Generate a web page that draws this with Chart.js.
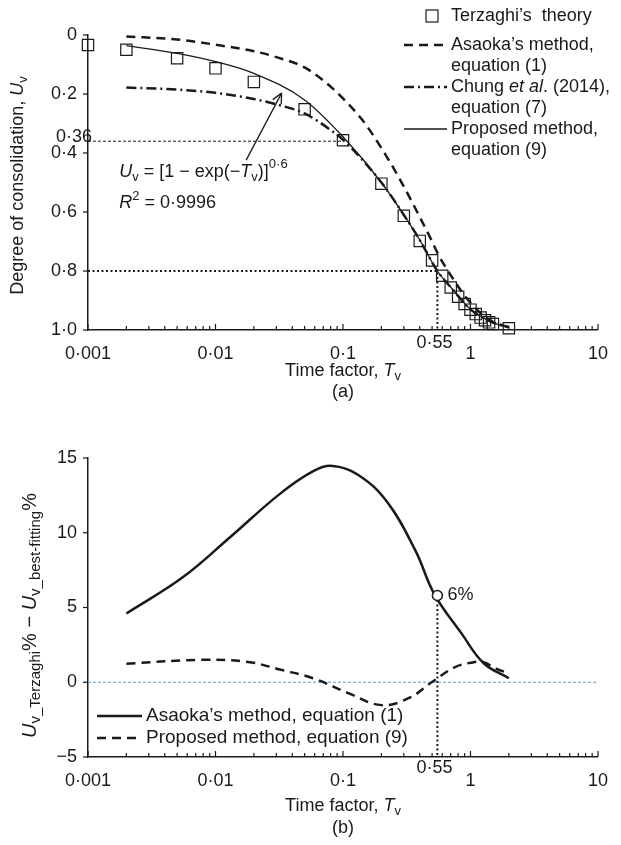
<!DOCTYPE html>
<html>
<head>
<meta charset="utf-8">
<script src="https://cdn.jsdelivr.net/npm/chart.js@4.4.0/dist/chart.umd.min.js"></script>
<style>
  html, body { margin: 0; padding: 0; background: #fff; }
  #wrap { position: relative; width: 621px; height: 845px; }
  canvas { position: absolute; left: 0; }
  #chartA { top: 0; }
  #chartB { top: 420px; }
</style>
</head>
<body>
<div id="wrap">
  <canvas id="chartA" width="621" height="420"></canvas>
  <canvas id="chartB" width="621" height="425"></canvas>
</div>
<script>
const FONT = "'Liberation Sans', Arial, sans-serif";
const INK = '#1a1a1a';

// axis ticks
const timeTicks = [0.001, 0.01, 0.1, 1, 10];
const timeTickLabels = ['0·001', '0·01', '0·1', '1', '10'];
const uTicks = [0, 0.2, 0.4, 0.6, 0.8, 1];
const uTickLabels = ['0', '0·2', '0·4', '0·6', '0·8', '1·0'];
const diffTicks = [-5, 0, 5, 10, 15];
const diffTickLabels = ['−5', '0', '5', '10', '15'];

// (a) degree of consolidation vs time factor
const terzaghiT = [0.001, 0.002, 0.005, 0.01, 0.02, 0.05, 0.1, 0.2, 0.3, 0.4, 0.5, 0.6, 0.7, 0.8, 0.9, 1.0, 1.1, 1.2, 1.3, 1.4, 1.5, 2.0];
const terzaghiU = [0.034, 0.05, 0.079, 0.113, 0.159, 0.252, 0.357, 0.504, 0.613, 0.698, 0.764, 0.816, 0.856, 0.887, 0.912, 0.931, 0.946, 0.958, 0.967, 0.974, 0.98, 0.994];
const asaokaT = [0.002, 0.005, 0.01, 0.02, 0.03, 0.05, 0.085, 0.1, 0.14, 0.2, 0.28, 0.4, 0.5, 0.56, 0.75, 0.9, 1.2, 1.5, 2.0];
const asaokaU = [0.005, 0.015, 0.033, 0.055, 0.075, 0.11, 0.185, 0.215, 0.285, 0.383, 0.49, 0.617, 0.70, 0.745, 0.834, 0.884, 0.943, 0.972, 0.991];
const chungT = [0.002, 0.005, 0.01, 0.02, 0.03, 0.05, 0.08, 0.1, 0.2, 0.3, 0.4, 0.55, 0.7, 1.0, 1.5, 2.0];
const chungU = [0.178, 0.185, 0.196, 0.217, 0.235, 0.266, 0.322, 0.355, 0.50, 0.61, 0.695, 0.80, 0.855, 0.93, 0.975, 0.99];
const proposedT = [0.002, 0.005, 0.01, 0.02, 0.05, 0.1, 0.2, 0.3, 0.4, 0.55, 0.7, 1.0, 1.5, 2.0];
const proposedU = [0.036, 0.062, 0.09, 0.13, 0.22, 0.345, 0.50, 0.61, 0.695, 0.80, 0.855, 0.93, 0.975, 0.99];

// (b) U_Terzaghi% - U_best-fitting%
const asaokaDiffT = [0.002, 0.0055, 0.013, 0.032, 0.058, 0.083, 0.13, 0.22, 0.37, 0.52, 0.85, 1.27, 2.0];
const asaokaDiff = [4.6, 7.0, 9.7, 12.6, 14.1, 14.47, 13.9, 12.1, 8.8, 5.9, 3.27, 1.27, 0.27];
const proposedDiffT = [0.002, 0.0079, 0.018, 0.032, 0.058, 0.11, 0.2, 0.33, 0.5, 0.75, 1.0, 1.25, 1.6, 2.0];
const proposedDiff = [1.24, 1.5, 1.36, 0.85, 0.27, -0.73, -1.53, -1.05, 0.02, 1.0, 1.3, 1.35, 0.9, 0.6];

// marked values
const markT = 0.55;
const markU = 0.8;
const markDiff = 5.8;
const refT = 0.1;
const refU = 0.36;

// minor ticks on the log axis, 1..9 per decade
const logTicks = [];
for (let e = -3; e < 1; e++) {
  for (let m = 1; m < 10; m++) logTicks.push(+(m * Math.pow(10, e)).toPrecision(3));
}
logTicks.push(10);

const pts = (xs, ys) => xs.map((x, i) => ({ x, y: ys[i] }));
const same = (a, b) => Math.abs(a - b) < Math.abs(b) * 1e-6 + 1e-9;

Chart.defaults.font.family = FONT;
Chart.defaults.font.size = 18;
Chart.defaults.color = INK;

function runFont(r, size, subSize) {
  return (r.i ? 'italic ' : '') + (r.sub || r.sup ? subSize : size) + 'px ' + FONT;
}

// draw a line of mixed text (italic / sub / superscript)
function drawRuns(ctx, runs, x, y, align, size = 18, subSize = 13) {
  let w = 0;
  runs.forEach(r => { ctx.font = runFont(r, size, subSize); w += ctx.measureText(r.t).width; });
  let cx = align === 'center' ? x - w / 2 : x;
  ctx.textAlign = 'left';
  ctx.textBaseline = 'middle';
  ctx.fillStyle = INK;
  runs.forEach(r => {
    ctx.font = runFont(r, size, subSize);
    const dy = r.sub ? size * 0.3 : r.sup ? -size * 0.4 : 0;
    ctx.fillText(r.t, cx, y + dy);
    cx += ctx.measureText(r.t).width;
  });
}

function line(ctx, x1, y1, x2, y2, width, dash) {
  ctx.save();
  ctx.strokeStyle = INK;
  ctx.lineWidth = width;
  ctx.setLineDash(dash || []);
  ctx.beginPath();
  ctx.moveTo(x1, y1);
  ctx.lineTo(x2, y2);
  ctx.stroke();
  ctx.restore();
}

function drawTickMarks(chart, yTicks) {
  const ctx = chart.ctx;
  const { x, y } = chart.scales;
  const area = chart.chartArea;
  logTicks.forEach(v => {
    const px = x.getPixelForValue(v);
    const len = timeTicks.some(t => same(v, t)) ? 6 : 4;
    line(ctx, px, area.bottom, px, area.bottom - len, 1.2);
  });
  yTicks.forEach(v => {
    const py = y.getPixelForValue(v);
    line(ctx, area.left - 5, py, area.left, py, 1.2);
  });
}

function timeAxis(height) {
  return {
    type: 'logarithmic',
    min: 0.001,
    max: 10,
    afterBuildTicks: axis => { axis.ticks = logTicks.map(v => ({ value: v })); },
    afterFit: axis => { axis.height = height; },
    grid: { display: false, drawTicks: false },
    border: { color: INK, width: 1.5 },
    ticks: {
      autoSkip: false,
      maxRotation: 0,
      padding: 13,
      callback: v => {
        const i = timeTicks.findIndex(t => same(v, t));
        return i < 0 ? '' : timeTickLabels[i];
      }
    }
  };
}

function valueAxis(min, max, ticks, labels, reverse) {
  return {
    type: 'linear',
    min, max, reverse,
    afterBuildTicks: axis => { axis.ticks = ticks.map(v => ({ value: v })); },
    afterFit: axis => { axis.width = 88; },
    grid: { display: false, drawTicks: false },
    border: { color: INK, width: 1.5 },
    ticks: {
      padding: 11,
      callback: v => {
        const i = ticks.findIndex(t => same(v, t));
        return i < 0 ? '' : labels[i];
      }
    }
  };
}

const xTitle = [{ t: 'Time factor, ' }, { t: 'T', i: true }, { t: 'v', sub: true }];

// ---------- (a) ----------
const legendA = [
  { y: 45, dash: [9, 6], width: 2.5, lines: [[{ t: 'Asaoka’s method,' }], [{ t: 'equation (1)' }]] },
  { y: 87, dash: [10, 4, 2, 4], width: 2.5, lines: [[{ t: 'Chung ' }, { t: 'et al', i: true }, { t: '. (2014),' }], [{ t: 'equation (7)' }]] },
  { y: 129, dash: [], width: 1.3, lines: [[{ t: 'Proposed method,' }], [{ t: 'equation (9)' }]] }
];

const decorA = {
  id: 'decorA',
  afterDraw(chart) {
    const ctx = chart.ctx;
    const { x, y } = chart.scales;
    const area = chart.chartArea;
    drawTickMarks(chart, uTicks);

    // extra tick labels
    ctx.font = '18px ' + FONT;
    ctx.fillStyle = INK;
    ctx.textAlign = 'right';
    ctx.textBaseline = 'middle';
    ctx.fillText('0·36', area.left + 4, y.getPixelForValue(refU) - 4);
    ctx.textAlign = 'center';
    ctx.fillText('0·55', x.getPixelForValue(markT) - 3, area.bottom + 13);

    // axis titles
    drawRuns(ctx, xTitle, (area.left + area.right) / 2, 371, 'center');
    drawRuns(ctx, [{ t: '(a)' }], (area.left + area.right) / 2, 392, 'center');
    ctx.save();
    ctx.translate(18, (area.top + area.bottom) / 2 + 3);
    ctx.rotate(-Math.PI / 2);
    drawRuns(ctx, [{ t: 'Degree of consolidation, ' }, { t: 'U', i: true }, { t: 'v', sub: true }], 0, 0, 'center');
    ctx.restore();

    // fitted equation and arrow
    const ex = x.getPixelForValue(0.00176);
    drawRuns(ctx, [{ t: 'U', i: true }, { t: 'v', sub: true }, { t: ' = [1 − exp(−' }, { t: 'T', i: true }, { t: 'v', sub: true }, { t: ')]' }, { t: '0·6', sup: true }],
      ex, y.getPixelForValue(0.464), 'left');
    drawRuns(ctx, [{ t: 'R', i: true }, { t: '2', sup: true }, { t: ' = 0·9996' }], ex, y.getPixelForValue(0.57), 'left');
    const ax1 = x.getPixelForValue(0.0174), ay1 = y.getPixelForValue(0.424);
    const ax2 = x.getPixelForValue(0.033), ay2 = y.getPixelForValue(0.197);
    line(ctx, ax1, ay1, ax2, ay2, 1.3);
    const ang = Math.atan2(ay2 - ay1, ax2 - ax1);
    [0.45, -0.45].forEach(d => {
      line(ctx, ax2, ay2, ax2 - 11 * Math.cos(ang + d), ay2 - 11 * Math.sin(ang + d), 1.3);
    });

    // legend
    ctx.save();
    ctx.strokeStyle = INK;
    ctx.lineWidth = 1.2;
    ctx.strokeRect(426, 10, 12, 12);
    ctx.restore();
    drawRuns(ctx, [{ t: 'Terzaghi’s  theory' }], 451, 16, 'left');
    legendA.forEach(item => {
      line(ctx, 404, item.y, 447, item.y, item.width, item.dash);
      item.lines.forEach((runs, k) => drawRuns(ctx, runs, 451, item.y + k * 21, 'left'));
    });
  }
};

new Chart(document.getElementById('chartA'), {
  type: 'line',
  data: {
    datasets: [
      {
        label: 'Terzaghi’s theory',
        data: pts(terzaghiT, terzaghiU),
        showLine: false,
        pointStyle: 'rect',
        pointRadius: 8,
        pointBorderWidth: 1.2,
        pointBorderColor: INK,
        pointBackgroundColor: 'rgba(0,0,0,0)',
        clip: false
      },
      {
        label: 'Proposed method, equation (9)',
        data: pts(proposedT, proposedU),
        borderColor: INK,
        borderWidth: 1.3,
        pointRadius: 0,
        cubicInterpolationMode: 'monotone'
      },
      {
        label: 'Chung et al. (2014), equation (7)',
        data: pts(chungT, chungU),
        borderColor: INK,
        borderWidth: 2.5,
        borderDash: [10, 4, 2, 4],
        pointRadius: 0,
        cubicInterpolationMode: 'monotone'
      },
      {
        label: 'Asaoka’s method, equation (1)',
        data: pts(asaokaT, asaokaU),
        borderColor: INK,
        borderWidth: 2.5,
        borderDash: [9, 6],
        pointRadius: 0,
        cubicInterpolationMode: 'monotone'
      },
      {
        label: 'U = 0.36',
        data: [{ x: 0.001, y: refU }, { x: refT, y: refU }],
        borderColor: INK,
        borderWidth: 1,
        borderDash: [3, 2],
        pointRadius: 0
      },
      {
        label: 'U = 0.8',
        data: [{ x: 0.001, y: markU }, { x: markT, y: markU }, { x: markT, y: 1 }],
        borderColor: INK,
        borderWidth: 2,
        borderDash: [2, 2.5],
        pointRadius: 0
      }
    ]
  },
  options: {
    responsive: false,
    animation: false,
    devicePixelRatio: 1,
    layout: { padding: { top: 35, right: 11, left: 0, bottom: 0 } },
    scales: {
      x: timeAxis(90),
      y: valueAxis(0, 1, uTicks, uTickLabels, true)
    },
    plugins: {
      legend: { display: false },
      tooltip: { enabled: false }
    }
  },
  plugins: [decorA]
});

// ---------- (b) ----------
const decorB = {
  id: 'decorB',
  afterDraw(chart) {
    const ctx = chart.ctx;
    const { x, y } = chart.scales;
    const area = chart.chartArea;
    drawTickMarks(chart, diffTicks);

    ctx.font = '18px ' + FONT;
    ctx.fillStyle = INK;
    ctx.textAlign = 'center';
    ctx.textBaseline = 'middle';
    ctx.fillText('0·55', x.getPixelForValue(markT) - 3, area.bottom + 11);
    ctx.textAlign = 'left';
    ctx.fillText('6%', x.getPixelForValue(markT) + 10, y.getPixelForValue(markDiff) - 1);

    drawRuns(ctx, xTitle, (area.left + area.right) / 2, 386, 'center');
    drawRuns(ctx, [{ t: '(b)' }], (area.left + area.right) / 2, 408, 'center');
    ctx.save();
    ctx.translate(30, (area.top + area.bottom) / 2 + 8);
    ctx.rotate(-Math.PI / 2);
    drawRuns(ctx, [{ t: 'U', i: true }, { t: 'v_Terzaghi', sub: true }, { t: '% − ' }, { t: 'U', i: true }, { t: 'v_best-fitting', sub: true }, { t: '%' }], 0, 0, 'center', 20, 15);
    ctx.restore();

    // legend
    line(ctx, 97, 296, 142, 296, 2.5, []);
    drawRuns(ctx, [{ t: 'Asaoka’s method, equation (1)' }], 146, 296, 'left', 19);
    line(ctx, 97, 318, 142, 318, 2.5, [9, 6]);
    drawRuns(ctx, [{ t: 'Proposed method, equation (9)' }], 146, 318, 'left', 19);
  }
};

new Chart(document.getElementById('chartB'), {
  type: 'line',
  data: {
    datasets: [
      {
        label: '6%',
        data: [{ x: markT, y: markDiff }],
        showLine: false,
        pointStyle: 'circle',
        pointRadius: 5,
        pointBorderWidth: 1.5,
        pointBorderColor: INK,
        pointBackgroundColor: '#fff'
      },
      {
        label: 'Asaoka’s method, equation (1)',
        data: pts(asaokaDiffT, asaokaDiff),
        borderColor: INK,
        borderWidth: 2.5,
        pointRadius: 0,
        tension: 0.4
      },
      {
        label: 'Proposed method, equation (9)',
        data: pts(proposedDiffT, proposedDiff),
        borderColor: INK,
        borderWidth: 2.5,
        borderDash: [9, 6],
        pointRadius: 0,
        tension: 0.4
      },
      {
        label: 'T = 0.55',
        data: [{ x: markT, y: markDiff }, { x: markT, y: -5 }],
        borderColor: INK,
        borderWidth: 2,
        borderDash: [2, 2.5],
        pointRadius: 0
      },
      {
        label: 'zero',
        data: [{ x: 0.001, y: 0 }, { x: 10, y: 0 }],
        borderColor: '#5b9bd5',
        borderWidth: 1,
        borderDash: [3, 2],
        pointRadius: 0
      }
    ]
  },
  options: {
    responsive: false,
    animation: false,
    devicePixelRatio: 1,
    layout: { padding: { top: 38, right: 11, left: 0, bottom: 0 } },
    scales: {
      x: timeAxis(88),
      y: valueAxis(-5, 15, diffTicks, diffTickLabels, false)
    },
    plugins: {
      legend: { display: false },
      tooltip: { enabled: false }
    }
  },
  plugins: [decorB]
});
</script>
</body>
</html>
